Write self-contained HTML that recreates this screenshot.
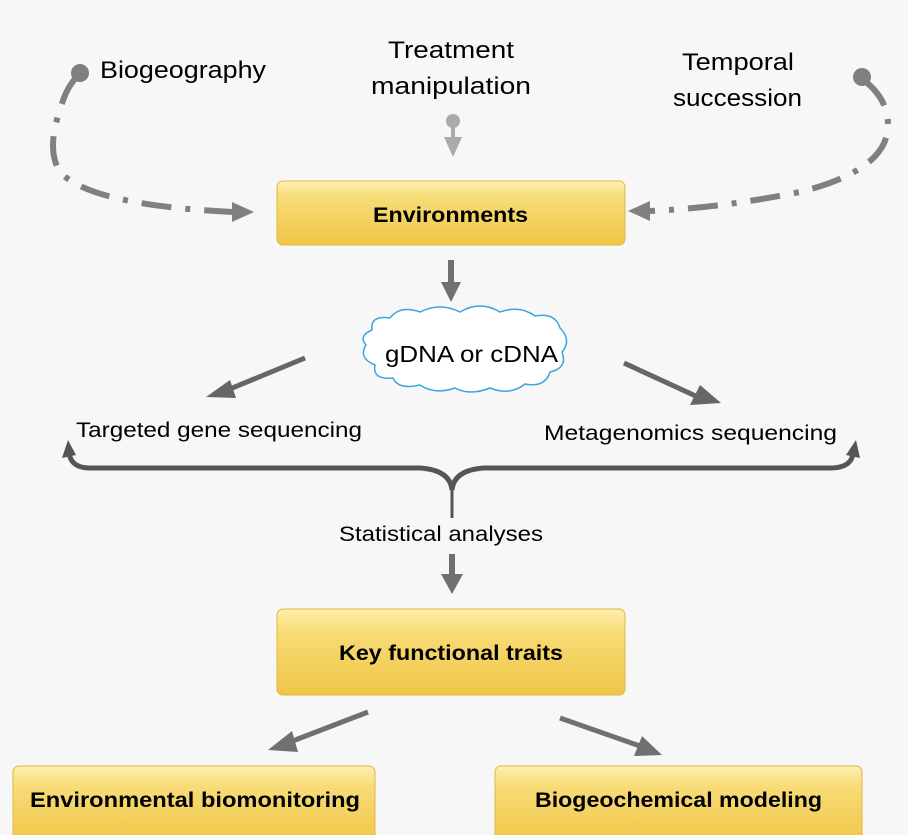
<!DOCTYPE html>
<html><head><meta charset="utf-8"><style>
body{margin:0;background:#f7f7f7;}
svg{display:block}
text{font-family:"Liberation Sans",sans-serif;fill:#000}
</style></head><body>
<svg width="908" height="835" viewBox="0 0 908 835" xmlns="http://www.w3.org/2000/svg">
<defs>
<linearGradient id="y" x1="0" y1="0" x2="0" y2="1">
<stop offset="0" stop-color="#fdf0b0"/><stop offset="0.25" stop-color="#f8dc78"/><stop offset="1" stop-color="#efc645"/>
</linearGradient>
</defs>
<rect width="908" height="835" fill="#f7f7f7"/>
<text x="100" y="78" font-size="24" textLength="166" lengthAdjust="spacingAndGlyphs">Biogeography</text>
<text x="388" y="58" font-size="24" textLength="126" lengthAdjust="spacingAndGlyphs">Treatment</text>
<text x="371" y="94" font-size="24" textLength="160" lengthAdjust="spacingAndGlyphs">manipulation</text>
<text x="682" y="70" font-size="24" textLength="112" lengthAdjust="spacingAndGlyphs">Temporal</text>
<text x="673" y="106" font-size="24" textLength="129" lengthAdjust="spacingAndGlyphs">succession</text>
<circle cx="80" cy="73" r="9" fill="#808080"/>
<path d="M76,78 Q66,88 60,110 Q46,150 60,172 Q90,205 232,212" fill="none" stroke="#808080" stroke-width="6" stroke-dasharray="30,14,5,14"/>
<path d="M232,202 L254,212 L232,222z" fill="#808080"/>
<circle cx="862" cy="77" r="9" fill="#808080"/>
<path d="M866,82 Q888,100 888,125 Q888,170 800,192 Q720,208 650,211" fill="none" stroke="#808080" stroke-width="6" stroke-dasharray="30,14,5,14"/>
<path d="M650,201 L628,211 L650,221z" fill="#808080"/>
<circle cx="453" cy="121" r="7" fill="#aaa"/>
<rect x="451" y="125" width="4" height="12" fill="#aaa"/>
<path d="M444,137 L462,137 L453,157z" fill="#aaa"/>
<rect x="277" y="181" width="348" height="64" rx="6" fill="url(#y)" stroke="#e0b840"/>
<text x="373" y="222" font-size="21" font-weight="bold" textLength="155" lengthAdjust="spacingAndGlyphs">Environments</text>
<rect x="448" y="260" width="6" height="24" fill="#707070"/>
<path d="M441,282 L461,282 L451,302z" fill="#707070"/>
<path d="M372,330 Q370,315 390,318 Q400,305 420,312 Q440,302 460,312 Q480,300 500,312 Q520,305 535,316 Q555,312 560,328 Q572,340 562,352 Q568,368 550,372 Q545,388 525,384 Q510,396 490,388 Q470,396 455,388 Q435,395 420,385 Q398,390 393,378 Q372,380 375,365 Q358,358 366,345 Q358,336 372,330z" fill="#fff" stroke="#3aa6dc" stroke-width="1.5"/>
<text x="385" y="362" font-size="23" textLength="173" lengthAdjust="spacingAndGlyphs">gDNA or cDNA</text>
<line x1="305" y1="358" x2="225" y2="391" stroke="#666" stroke-width="5"/>
<path d="M230,380 L206,397 L236,398z" fill="#666"/>
<line x1="624" y1="363" x2="700" y2="398" stroke="#666" stroke-width="5"/>
<path d="M690,405 L721,403 L700,385z" fill="#666"/>
<text x="76" y="437" font-size="21" textLength="286" lengthAdjust="spacingAndGlyphs">Targeted gene sequencing</text>
<text x="544" y="440" font-size="21" textLength="293" lengthAdjust="spacingAndGlyphs">Metagenomics sequencing</text>
<path d="M69,448 Q68,468 90,468 L420,468 Q450,470 452,490 Q454,470 484,468 L830,468 Q855,468 853,448" fill="none" stroke="#555" stroke-width="5"/>
<line x1="452" y1="488" x2="452" y2="518" stroke="#555" stroke-width="3"/>
<path d="M62,458 L68,440 L76,455z" fill="#555"/>
<path d="M846,455 L856,440 L860,458z" fill="#555"/>
<text x="339" y="541" font-size="21" textLength="204" lengthAdjust="spacingAndGlyphs">Statistical analyses</text>
<rect x="449" y="554" width="6" height="22" fill="#707070"/>
<path d="M441,574 L463,574 L452,594z" fill="#707070"/>
<rect x="277" y="609" width="348" height="86" rx="6" fill="url(#y)" stroke="#e0b840"/>
<text x="339" y="660" font-size="21" font-weight="bold" textLength="224" lengthAdjust="spacingAndGlyphs">Key functional traits</text>
<line x1="368" y1="712" x2="290" y2="742" stroke="#707070" stroke-width="5"/>
<path d="M292,731 L268,750 L298,752z" fill="#707070"/>
<line x1="560" y1="718" x2="640" y2="746" stroke="#707070" stroke-width="5"/>
<path d="M634,756 L662,755 L642,736z" fill="#707070"/>
<rect x="13" y="766" width="362" height="80" rx="6" fill="url(#y)" stroke="#e0b840"/>
<text x="30" y="807" font-size="21" font-weight="bold" textLength="330" lengthAdjust="spacingAndGlyphs">Environmental biomonitoring</text>
<rect x="495" y="766" width="367" height="80" rx="6" fill="url(#y)" stroke="#e0b840"/>
<text x="535" y="807" font-size="21" font-weight="bold" textLength="287" lengthAdjust="spacingAndGlyphs">Biogeochemical modeling</text>
</svg>
</body></html>
